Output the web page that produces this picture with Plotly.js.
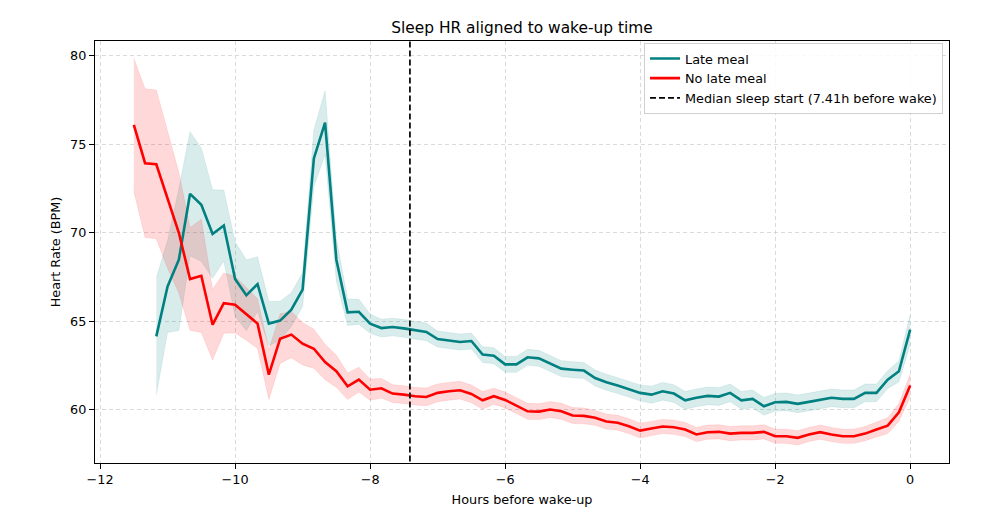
<!DOCTYPE html>
<html>
<head>
<meta charset="utf-8">
<script src="https://cdn.plot.ly/plotly-3.0.1.min.js"></script>
<style>html,body{margin:0;padding:0;background:#fff;}#chart{width:1000px;height:525px;}</style>
</head>
<body>
<div id="chart"></div>
<script>
// Hours before wake-up (10-minute bins)
const hours = [-11.5, -11.333, -11.167, -11, -10.833, -10.667, -10.5, -10.333, -10.167, -10,
  -9.833, -9.667, -9.5, -9.333, -9.167, -9, -8.833, -8.667, -8.5, -8.333,
  -8.167, -8, -7.833, -7.667, -7.5, -7.333, -7.167, -7, -6.833, -6.667,
  -6.5, -6.333, -6.167, -6, -5.833, -5.667, -5.5, -5.333, -5.167, -5,
  -4.833, -4.667, -4.5, -4.333, -4.167, -4, -3.833, -3.667, -3.5, -3.333,
  -3.167, -3, -2.833, -2.667, -2.5, -2.333, -2.167, -2, -1.833, -1.667,
  -1.5, -1.333, -1.167, -1, -0.833, -0.667, -0.5, -0.333, -0.167, 0];

// No late meal: mean HR and CI half-width
const noLateMeal = [76.1, 73.93, 73.87, 71.9, 70.0, 67.39, 67.57, 64.81, 66.03, 65.94,
  65.43, 64.87, 61.99, 64.02, 64.25, 63.74, 63.45, 62.7, 62.18, 61.33,
  61.71, 61.14, 61.22, 60.92, 60.86, 60.77, 60.73, 60.96, 61.05, 61.11,
  60.9, 60.54, 60.77, 60.56, 60.24, 59.92, 59.9, 60.02, 59.92, 59.68,
  59.66, 59.55, 59.34, 59.27, 59.08, 58.83, 58.95, 59.06, 59.02, 58.89,
  58.61, 58.74, 58.76, 58.66, 58.7, 58.7, 58.76, 58.51, 58.51, 58.42,
  58.61, 58.74, 58.61, 58.51, 58.51, 58.66, 58.89, 59.11, 59.86, 61.37];
const noLateMealCI = [3.75, 4.2, 4.2, 3.9, 3.4, 2.9, 3.2, 2.0, 1.7, 1.6,
  1.5, 1.4, 1.4, 1.4, 1.3, 1.2, 1.1, 1.0, 0.9, 0.75,
  0.7, 0.6, 0.55, 0.5, 0.5, 0.5, 0.5, 0.5, 0.5, 0.5,
  0.5, 0.5, 0.45, 0.45, 0.45, 0.45, 0.45, 0.45, 0.45, 0.45,
  0.45, 0.42, 0.42, 0.42, 0.42, 0.42, 0.4, 0.4, 0.4, 0.4,
  0.4, 0.4, 0.4, 0.4, 0.4, 0.4, 0.4, 0.4, 0.4, 0.4,
  0.4, 0.4, 0.4, 0.4, 0.4, 0.4, 0.42, 0.45, 0.5, 0.65];

// Late meal: starts at -11.167 h (hours index 2)
const lateMealStart = 2;
const lateMeal = [64.15, 66.97, 68.48, 72.2, 71.58, 69.93, 70.41, 67.39, 66.47, 67.1,
  64.87, 65.04, 65.66, 66.79, 74.2, 76.22, 68.48, 65.51, 65.54, 64.87,
  64.62, 64.68, 64.6, 64.49, 64.4, 64.0, 63.93, 63.83, 63.89, 63.12,
  63.06, 62.57, 62.57, 62.97, 62.91, 62.61, 62.33, 62.27, 62.22, 61.8,
  61.56, 61.37, 61.15, 60.96, 60.86, 61.05, 60.92, 60.54, 60.68, 60.79,
  60.75, 60.96, 60.54, 60.62, 60.2, 60.43, 60.45, 60.34, 60.45, 60.58,
  60.68, 60.62, 60.62, 60.96, 60.96, 61.71, 62.18, 64.53];
const lateMealCI = [3.3, 2.6, 4.0, 3.5, 3.2, 2.5, 2.0, 2.1, 2.0, 1.55,
  1.25, 1.1, 0.95, 0.95, 1.6, 1.8, 1.2, 0.75, 0.7, 0.55,
  0.5, 0.5, 0.5, 0.5, 0.5, 0.45, 0.45, 0.45, 0.45, 0.45,
  0.45, 0.45, 0.45, 0.45, 0.45, 0.45, 0.45, 0.45, 0.45, 0.45,
  0.45, 0.45, 0.45, 0.45, 0.48, 0.5, 0.5, 0.5, 0.5, 0.5,
  0.5, 0.5, 0.5, 0.5, 0.5, 0.5, 0.5, 0.5, 0.5, 0.5,
  0.5, 0.5, 0.5, 0.5, 0.5, 0.5, 0.6, 0.85];

const medianSleepStart = 7.41; // hours before wake
const xTicks = [-12, -10, -8, -6, -4, -2, 0];
const yTicks = [60, 65, 70, 75, 80];
const xRange = [-12.075, 0.575];
const yRange = [57.0, 80.83];

const FONT = 'DejaVu Sans, Verdana, sans-serif';
const FS = 12.8;
const lateHours = hours.slice(lateMealStart);

function band(x, y, ci, fillColor, edgeColor) {
  return [
    {x: x, y: y.map((v, i) => v - ci[i]), type: 'scatter', mode: 'lines',
     line: {width: 0.8, color: edgeColor}, showlegend: false, hoverinfo: 'skip'},
    {x: x, y: y.map((v, i) => v + ci[i]), type: 'scatter', mode: 'lines', fill: 'tonexty',
     fillcolor: fillColor, line: {width: 0.8, color: edgeColor}, showlegend: false, hoverinfo: 'skip'}
  ];
}

const traces = [
  ...band(lateHours, lateMeal, lateMealCI, 'rgba(0,128,128,0.15)', 'rgba(0,128,128,0.12)'),
  ...band(hours, noLateMeal, noLateMealCI, 'rgba(255,0,0,0.15)', 'rgba(255,0,0,0.12)'),
  {x: lateHours, y: lateMeal, type: 'scatter', mode: 'lines', name: 'Late meal',
   line: {color: '#008080', width: 2.6}},
  {x: hours, y: noLateMeal, type: 'scatter', mode: 'lines', name: 'No late meal',
   line: {color: '#ff0000', width: 2.6}},
  {x: [-medianSleepStart, -medianSleepStart], y: [yRange[0] - 5, yRange[1] + 5], type: 'scatter', mode: 'lines',
   name: 'Median sleep start (' + medianSleepStart.toFixed(2) + 'h before wake)',
   line: {color: '#000000', width: 1.7, dash: '6px,3px'}}
];

const axisCommon = {
  showline: true, linecolor: '#000', linewidth: 1.1, mirror: true,
  ticks: 'outside', ticklen: 5, tickwidth: 1, tickcolor: '#000',
  showgrid: true, gridcolor: 'rgba(205,205,205,0.75)', griddash: '4px,3px', gridwidth: 1,
  zeroline: false, tickfont: {family: FONT, size: FS, color: '#000'}
};

const layout = {
  width: 1000, height: 525,
  paper_bgcolor: '#fff', plot_bgcolor: '#fff',
  margin: {l: 95, r: 51, t: 41, b: 62},
  font: {family: FONT, color: '#000'},
  title: {text: 'Sleep HR aligned to wake-up time', font: {family: FONT, size: 15.4, color: '#000'},
          xref: 'paper', x: 0.5, xanchor: 'center', yref: 'container', y: 0.947, yanchor: 'middle'},
  xaxis: Object.assign({}, axisCommon, {range: xRange, tickvals: xTicks,
    title: {text: 'Hours before wake-up', font: {family: FONT, size: FS, color: '#000'}, standoff: 8}}),
  yaxis: Object.assign({}, axisCommon, {range: yRange, tickvals: yTicks,
    title: {text: 'Heart Rate (BPM)', font: {family: FONT, size: FS, color: '#000'}, standoff: 6}}),
  legend: {x: 0.993, xanchor: 'right', y: 0.996, yanchor: 'top', traceorder: 'normal',
    bgcolor: 'rgba(255,255,255,0.85)', bordercolor: '#d0d0d0', borderwidth: 1, itemwidth: 30,
    font: {family: FONT, size: FS, color: '#000'}, tracegroupgap: 0},
  showlegend: true
};

Plotly.newPlot('chart', traces, layout, {staticPlot: true, displayModeBar: false});
</script>
</body>
</html>
